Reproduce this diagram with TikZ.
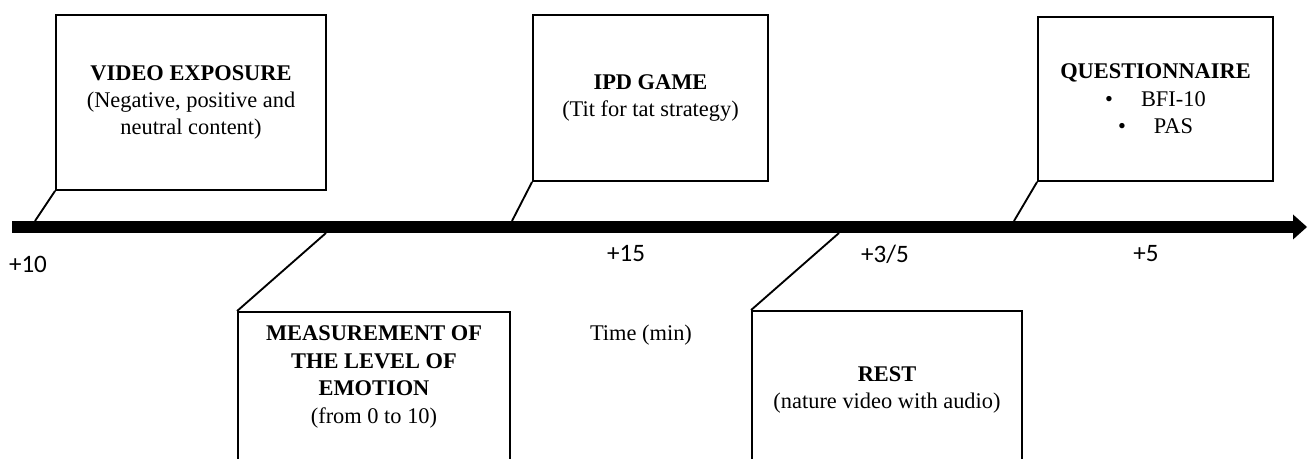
\documentclass[tikz,border=0pt]{standalone}
\usepackage{fontspec}
\setmainfont{Liberation Serif}
\newfontfamily\tickfont{Carlito}
\usetikzlibrary{arrows.meta, positioning}

\begin{document}
\begin{tikzpicture}[x=0.75pt, y=-0.75pt, >=Triangle,
stage box/.style={
draw,
line width=1.4pt,
align=center,
inner sep=0pt,
font=\fontsize{16.8}{20.6}\selectfont
},
stage text/.style={
align=center,
inner sep=0pt,
font=\fontsize{16.8}{20.6}\selectfont
},
tick label/.style={
inner sep=0pt,
anchor=base,
font=\tickfont\fontsize{18.8}{22}\selectfont
}
]

\useasboundingbox (0,0) rectangle (1309,459);
\clip (0,0) rectangle (1309,459);

% time line
\coordinate (start) at (12,227);
\coordinate (end) at (1307,227);
\draw[line width=9pt, -{Triangle[length=10.5pt, width=18.75pt, line width=0pt]}] (start) -- (end);

\coordinate (t1) at (35,221);
\coordinate (t2) at (326,233);
\coordinate (t3) at (512,221);
\coordinate (t4) at (839,233);
\coordinate (t5) at (1014,221);

% stages above the line
\node[stage box, minimum width=202.5pt, minimum height=131.25pt] (video) at (191,102.5)
  {\textbf{VIDEO EXPOSURE}\\(Negative, positive and\\neutral content)};
\node[stage box, minimum width=176.25pt, minimum height=124.5pt] (ipd) at (650.5,98)
  {\textbf{IPD GAME}\\(Tit for tat strategy)};
\node[stage box, minimum width=176.25pt, minimum height=123pt] (quest) at (1155.5,99)
  {\textbf{QUESTIONNAIRE}\\\textbullet\hspace{21pt}BFI-10\\\textbullet\hspace{21pt}PAS};

% stages below the line
\node[stage box, minimum width=204pt, minimum height=141pt] (measure) at (374,406) {};
\node[stage text, below=11pt of measure.north] (measure text)
  {\textbf{MEASUREMENT OF}\\\textbf{THE LEVEL OF}\\\textbf{EMOTION}\\(from 0 to 10)};
\node[stage box, minimum width=202.5pt, minimum height=141.75pt] (rest) at (887,405.5) {};
\node[stage text, below=42pt of rest.north] (rest text)
  {\textbf{REST}\\(nature video with audio)};

\draw[line width=1.4pt] (video.south west) -- (t1);
\draw[line width=1.4pt] (ipd.south west) -- (t3);
\draw[line width=1.4pt] (quest.south west) -- (t5);
\draw[line width=1.4pt] (t2) -- (measure.north west);
\draw[line width=1.4pt] (t4) -- (rest.north west);

% durations
\node[tick label] (d1) at (28,273) {+10};
\node[tick label] (d2) at (626,262) {+15};
\node[tick label] (d3) at (885,263) {+3/5};
\node[tick label] (d4) at (1146,262) {+5};
\node[stage text, anchor=base] (time) at (641,340) {Time (min)};

\end{tikzpicture}
\end{document}
